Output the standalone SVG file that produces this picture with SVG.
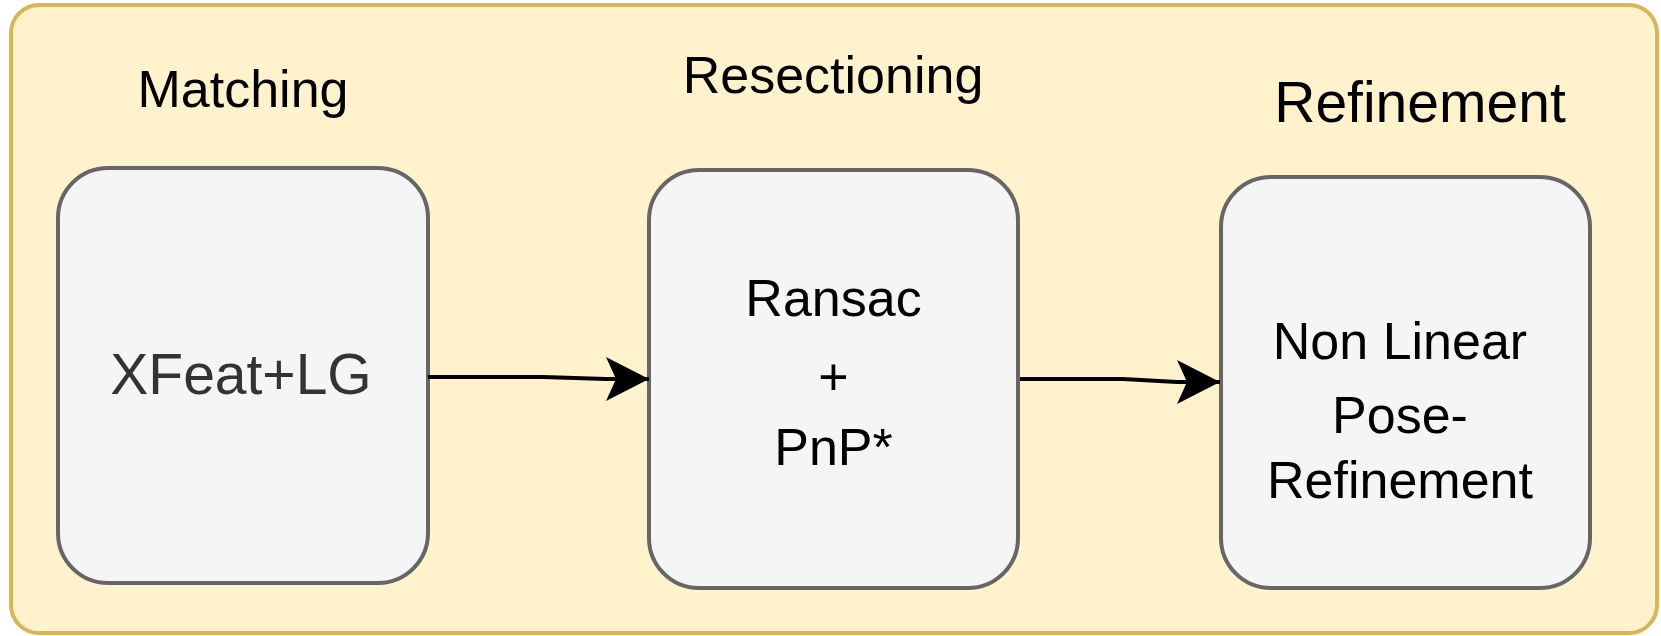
<svg xmlns="http://www.w3.org/2000/svg" width="1661" height="636" viewBox="0 0 1661 636">
<style>
.container{fill:#fff2cc;stroke:#d6b656;stroke-width:4}
.box{fill:#f5f5f5;stroke:#666666;stroke-width:4}
.title{font-family:"Liberation Sans",Arial,sans-serif;fill:#000000;text-anchor:middle}
.label{font-family:"Liberation Sans",Arial,sans-serif;text-anchor:middle;font-size:52px;fill:#000000}
.edge{fill:none;stroke:#000000;stroke-width:4}
</style>
<defs>
<marker id="arrow" markerUnits="userSpaceOnUse" viewBox="0 0 43 44" refX="43" refY="22" markerWidth="43" markerHeight="44" orient="auto">
<path d="M0,0 L43,22 L0,44 L10,22 Z" fill="#000000"/>
</marker>
</defs>
<g id="container">
<rect class="container" x="11" y="5" width="1646" height="628" rx="28" ry="28"/>
<text class="title" x="243" y="107" font-size="52">Matching</text>
<text class="title" x="833" y="93" font-size="52">Resectioning</text>
<text class="title" x="1420" y="122" font-size="57">Refinement</text>
</g>
<g id="node-matching">
<rect class="box" x="58" y="168" width="370" height="415" rx="50" ry="50"/>
<text class="label" x="241" y="394" style="fill:#333333;font-size:57px">XFeat+LG</text>
</g>
<g id="node-resectioning">
<rect class="box" x="649" y="170" width="369" height="418" rx="50" ry="50"/>
<text class="label" x="833.5" y="316">Ransac</text>
<text class="label" x="833.5" y="395">+</text>
<text class="label" x="833.5" y="465">PnP*</text>
</g>
<g id="node-refinement">
<rect class="box" x="1221" y="177" width="369" height="411" rx="50" ry="50"/>
<text class="label" x="1400" y="359">Non Linear</text>
<text class="label" x="1400" y="433">Pose-</text>
<text class="label" x="1400" y="498">Refinement</text>
</g>
<g id="connectors">
<path class="edge" d="M428,377 L543,377 L606,379 L649,379" marker-end="url(#arrow)"/>
<path class="edge" d="M1020,379 L1123,379 L1177,382 L1220,382" marker-end="url(#arrow)"/>
</g>
</svg>
